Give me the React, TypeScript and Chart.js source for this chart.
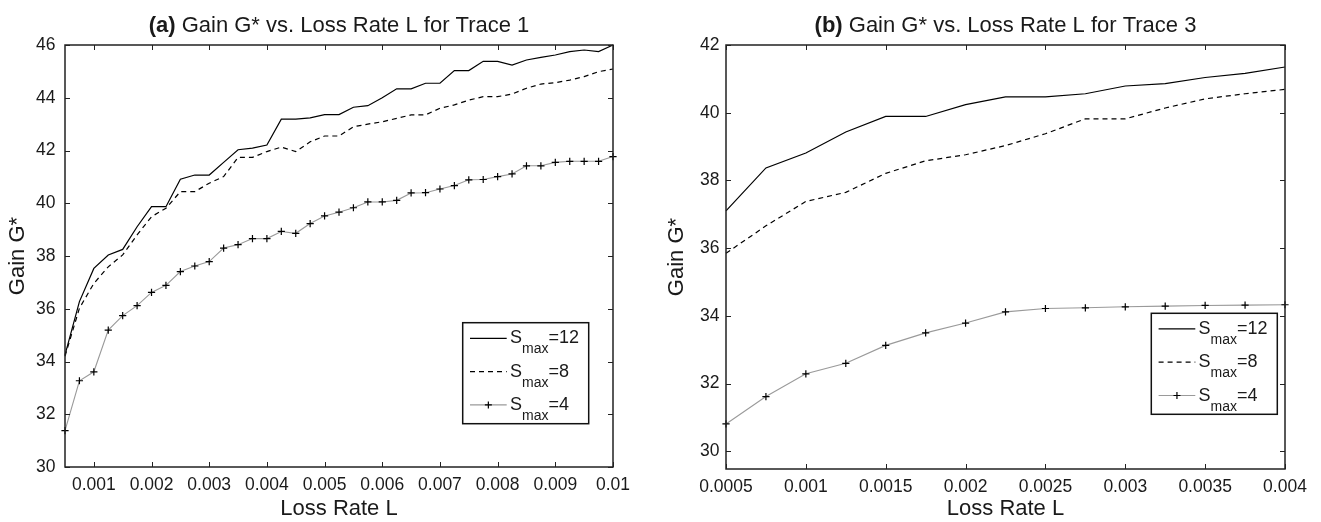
import React, { useEffect, useRef } from "react";
import { Chart, registerables } from "chart.js";

Chart.register(...registerables);

const FONT = "'Liberation Sans', Arial, Helvetica, sans-serif";
const TEXT = "#1a1a1a";

// ---------- Trace 1 (panel a) ----------
const trace1Loss = [
  0.0005, 0.00075, 0.001, 0.00125, 0.0015, 0.00175, 0.002, 0.00225, 0.0025, 0.00275,
  0.003, 0.00325, 0.0035, 0.00375, 0.004, 0.00425, 0.0045, 0.00475, 0.005, 0.00525,
  0.0055, 0.00575, 0.006, 0.00625, 0.0065, 0.00675, 0.007, 0.00725, 0.0075, 0.00775,
  0.008, 0.00825, 0.0085, 0.00875, 0.009, 0.00925, 0.0095, 0.00975, 0.01,
];
const trace1Smax12 = [
  34.25, 36.27, 37.53, 38.04, 38.25, 39.11, 39.87, 39.87, 40.91, 41.07,
  41.07, 41.55, 42.03, 42.09, 42.21, 43.19, 43.19, 43.24, 43.36, 43.36,
  43.64, 43.7, 44.0, 44.34, 44.34, 44.55, 44.55, 45.03, 45.03, 45.38,
  45.38, 45.24, 45.43, 45.53, 45.62, 45.75, 45.81, 45.75, 46.0,
];
const trace1Smax8 = [
  34.2, 36.02, 36.96, 37.59, 38.04, 38.8, 39.49, 39.81, 40.44, 40.44,
  40.76, 41.01, 41.74, 41.74, 41.96, 42.13, 41.96, 42.33, 42.55, 42.55,
  42.9, 43.0, 43.09, 43.22, 43.35, 43.35, 43.6, 43.73, 43.91, 44.04,
  44.04, 44.14, 44.36, 44.52, 44.57, 44.67, 44.8, 44.99, 45.09,
];
const trace1Smax4 = [
  31.38, 33.27, 33.61, 35.19, 35.74, 36.12, 36.62, 36.89, 37.41, 37.62,
  37.79, 38.3, 38.43, 38.66, 38.66, 38.93, 38.86, 39.23, 39.52, 39.66,
  39.83, 40.05, 40.05, 40.11, 40.39, 40.4, 40.54, 40.67, 40.89, 40.9,
  41.01, 41.11, 41.42, 41.42, 41.55, 41.59, 41.59, 41.59, 41.77,
];
const trace1XTicks = [0.001, 0.002, 0.003, 0.004, 0.005, 0.006, 0.007, 0.008, 0.009, 0.01];
const trace1XTickLabels = ["0.001", "0.002", "0.003", "0.004", "0.005", "0.006", "0.007", "0.008", "0.009", "0.01"];
const trace1YTicks = [30, 32, 34, 36, 38, 40, 42, 44, 46];
const trace1YTickLabels = ["30", "32", "34", "36", "38", "40", "42", "44", "46"];

// ---------- Trace 3 (panel b) ----------
const trace3Loss = [
  0.0005, 0.00075, 0.001, 0.00125, 0.0015, 0.00175, 0.002, 0.00225, 0.0025, 0.00275,
  0.003, 0.00325, 0.0035, 0.00375, 0.004,
];
const trace3Smax12 = [37.1, 38.37, 38.81, 39.43, 39.89, 39.89, 40.24, 40.47, 40.47, 40.56, 40.79, 40.86, 41.04, 41.16, 41.35];
const trace3Smax8 = [35.85, 36.66, 37.38, 37.65, 38.21, 38.58, 38.76, 39.03, 39.38, 39.82, 39.82, 40.14, 40.41, 40.56, 40.69];
const trace3Smax4 = [30.81, 31.62, 32.29, 32.6, 33.13, 33.5, 33.79, 34.12, 34.22, 34.24, 34.27, 34.29, 34.31, 34.32, 34.33];
const trace3XTicks = [0.0005, 0.001, 0.0015, 0.002, 0.0025, 0.003, 0.0035, 0.004];
const trace3XTickLabels = ["0.0005", "0.001", "0.0015", "0.002", "0.0025", "0.003", "0.0035", "0.004"];
const trace3YTicks = [30, 32, 34, 36, 38, 40, 42];
const trace3YTickLabels = ["30", "32", "34", "36", "38", "40", "42"];

// ---------- shared text ----------
const seriesSuffix = ["=12", "=8", "=4"];
const legendBase = "S";
const legendSub = "max";
const xTitle = "Loss Rate L";
const yTitle = "Gain G*";

type PanelCfg = {
  prefix: string;
  title: string;
  loss: number[];
  s12: number[];
  s8: number[];
  s4: number[];
  xMin: number;
  xMax: number;
  yMin: number;
  yMax: number;
  xTicks: number[];
  xLabels: string[];
  yTicks: number[];
  yLabels: string[];
  padRight: number;
  yWidth: number;
  xHeight: number;
  yTickPad: number;
  yTitlePad: number;
  legendRight: number;
  legendBottom: number;
};

function decorPlugin(cfg: PanelCfg) {
  return {
    id: "decor",
    afterDraw(chart: any) {
      const { ctx, chartArea: a, scales } = chart;
      ctx.save();
      // frame
      ctx.strokeStyle = "#222";
      ctx.lineWidth = 1.5;
      ctx.strokeRect(a.left, a.top, a.right - a.left, a.bottom - a.top);
      // inward ticks on all four sides
      ctx.lineWidth = 1;
      const tl = 5;
      ctx.beginPath();
      scales.x.ticks.forEach((t: any) => {
        const px = Math.round(scales.x.getPixelForValue(t.value)) + 0.5;
        ctx.moveTo(px, a.bottom);
        ctx.lineTo(px, a.bottom - tl);
        ctx.moveTo(px, a.top);
        ctx.lineTo(px, a.top + tl);
      });
      scales.y.ticks.forEach((t: any) => {
        const py = Math.round(scales.y.getPixelForValue(t.value)) + 0.5;
        ctx.moveTo(a.left, py);
        ctx.lineTo(a.left + tl, py);
        ctx.moveTo(a.right, py);
        ctx.lineTo(a.right - tl, py);
      });
      ctx.stroke();

      // title with bold prefix
      const boldFont = `bold 22px ${FONT}`;
      const normFont = `22px ${FONT}`;
      ctx.font = boldFont;
      const w1 = ctx.measureText(cfg.prefix).width;
      ctx.font = normFont;
      const rest = " " + cfg.title;
      const w2 = ctx.measureText(rest).width;
      const cx = (a.left + a.right) / 2;
      const x0 = cx - (w1 + w2) / 2;
      ctx.fillStyle = TEXT;
      ctx.textAlign = "left";
      ctx.textBaseline = "alphabetic";
      ctx.font = boldFont;
      ctx.fillText(cfg.prefix, x0, 32);
      ctx.font = normFont;
      ctx.fillText(rest, x0 + w1, 32);

      // legend
      const bw = 126;
      const bh = 101;
      const bx = a.right - cfg.legendRight - bw;
      const by = a.bottom - cfg.legendBottom - bh;
      ctx.fillStyle = "#fff";
      ctx.fillRect(bx, by, bw, bh);
      ctx.strokeStyle = "#111";
      ctx.lineWidth = 1.5;
      ctx.strokeRect(bx, by, bw, bh);
      for (let i = 0; i < 3; i++) {
        const base = by + 20.6 + i * 33.3;
        const ly = base - 5;
        const lx0 = bx + 7.3;
        const lx1 = bx + 44;
        ctx.save();
        ctx.beginPath();
        if (i === 0) {
          ctx.strokeStyle = "#000";
          ctx.lineWidth = 1.2;
        } else if (i === 1) {
          ctx.strokeStyle = "#000";
          ctx.lineWidth = 1.2;
          ctx.setLineDash([5, 4]);
        } else {
          ctx.strokeStyle = "#9a9a9a";
          ctx.lineWidth = 1.2;
        }
        ctx.moveTo(lx0, ly);
        ctx.lineTo(lx1, ly);
        ctx.stroke();
        if (i === 2) {
          const mx = (lx0 + lx1) / 2;
          ctx.beginPath();
          ctx.strokeStyle = "#000";
          ctx.moveTo(mx - 3.5, ly);
          ctx.lineTo(mx + 3.5, ly);
          ctx.moveTo(mx, ly - 3.5);
          ctx.lineTo(mx, ly + 3.5);
          ctx.stroke();
        }
        ctx.restore();
        ctx.fillStyle = TEXT;
        ctx.textAlign = "left";
        ctx.textBaseline = "alphabetic";
        let tx = bx + 47.3;
        ctx.font = `18px ${FONT}`;
        ctx.fillText(legendBase, tx, base);
        tx += ctx.measureText(legendBase).width;
        ctx.font = `14px ${FONT}`;
        ctx.fillText(legendSub, tx, base + 10);
        tx += ctx.measureText(legendSub).width;
        ctx.font = `18px ${FONT}`;
        ctx.fillText(seriesSuffix[i], tx, base);
      }
      ctx.restore();
    },
  };
}

function makeConfig(cfg: PanelCfg): any {
  const pts = (ys: number[]) => cfg.loss.map((x, i) => ({ x, y: ys[i] }));
  return {
    type: "line",
    data: {
      datasets: [
        {
          label: legendBase + legendSub + seriesSuffix[0],
          data: pts(cfg.s12),
          borderColor: "#000",
          borderWidth: 1.2,
          pointRadius: 0,
          fill: false,
          tension: 0,
          clip: false,
        },
        {
          label: legendBase + legendSub + seriesSuffix[1],
          data: pts(cfg.s8),
          borderColor: "#000",
          borderWidth: 1.2,
          borderDash: [5, 4],
          pointRadius: 0,
          fill: false,
          tension: 0,
          clip: false,
        },
        {
          label: legendBase + legendSub + seriesSuffix[2],
          data: pts(cfg.s4),
          borderColor: "#9a9a9a",
          borderWidth: 1.1,
          pointStyle: "cross",
          pointRadius: 3.6,
          pointBorderColor: "#000",
          pointBackgroundColor: "#000",
          pointBorderWidth: 1.2,
          fill: false,
          tension: 0,
          clip: false,
        },
      ],
    },
    options: {
      responsive: false,
      animation: false,
      events: [],
      layout: { padding: { top: 45, left: 0, right: cfg.padRight, bottom: 0 } },
      plugins: {
        legend: { display: false },
        title: { display: false },
        tooltip: { enabled: false },
      },
      scales: {
        x: {
          type: "linear",
          min: cfg.xMin,
          max: cfg.xMax,
          afterBuildTicks: (s: any) => {
            s.ticks = cfg.xTicks.map((v) => ({ value: v }));
          },
          afterFit: (s: any) => {
            s.height = cfg.xHeight;
          },
          grid: { display: false, drawTicks: false },
          border: { display: false },
          ticks: {
            padding: 8,
            color: TEXT,
            font: { family: FONT, size: 17.5 },
            maxRotation: 0,
            autoSkip: false,
            callback: (_v: any, i: number) => cfg.xLabels[i],
          },
          title: {
            display: true,
            text: xTitle,
            color: TEXT,
            font: { family: FONT, size: 22 },
            padding: { top: 0, bottom: 0 },
          },
        },
        y: {
          type: "linear",
          min: cfg.yMin,
          max: cfg.yMax,
          afterBuildTicks: (s: any) => {
            s.ticks = cfg.yTicks.map((v) => ({ value: v }));
          },
          afterFit: (s: any) => {
            s.width = cfg.yWidth;
          },
          grid: { display: false, drawTicks: false },
          border: { display: false },
          ticks: {
            padding: cfg.yTickPad,
            color: TEXT,
            font: { family: FONT, size: 17.5 },
            autoSkip: false,
            callback: (_v: any, i: number) => cfg.yLabels[i],
          },
          title: {
            display: true,
            text: yTitle,
            color: TEXT,
            font: { family: FONT, size: 22 },
            padding: { top: cfg.yTitlePad, bottom: 0 },
          },
        },
      },
    },
    plugins: [decorPlugin(cfg)],
  };
}

const panelA: PanelCfg = {
  prefix: "(a)",
  title: "Gain G* vs. Loss Rate L for Trace 1",
  loss: trace1Loss,
  s12: trace1Smax12,
  s8: trace1Smax8,
  s4: trace1Smax4,
  xMin: 0.0005,
  xMax: 0.01,
  yMin: 30,
  yMax: 46,
  xTicks: trace1XTicks,
  xLabels: trace1XTickLabels,
  yTicks: trace1YTicks,
  yLabels: trace1YTickLabels,
  padRight: 47,
  yWidth: 65,
  xHeight: 55,
  yTickPad: 9.5,
  yTitlePad: 5,
  legendRight: 24.3,
  legendBottom: 43.3,
};

const panelB: PanelCfg = {
  prefix: "(b)",
  title: "Gain G* vs. Loss Rate L for Trace 3",
  loss: trace3Loss,
  s12: trace3Smax12,
  s8: trace3Smax8,
  s4: trace3Smax4,
  xMin: 0.0005,
  xMax: 0.004,
  yMin: 29.48,
  yMax: 42,
  xTicks: trace3XTicks,
  xLabels: trace3XTickLabels,
  yTicks: trace3YTicks,
  yLabels: trace3YTickLabels,
  padRight: 36,
  yWidth: 66,
  xHeight: 53,
  yTickPad: 6.5,
  yTitlePad: 3.5,
  legendRight: 7.7,
  legendBottom: 54.7,
};

export default function App() {
  const leftRef = useRef<HTMLCanvasElement | null>(null);
  const rightRef = useRef<HTMLCanvasElement | null>(null);

  useEffect(() => {
    const charts: Chart[] = [];
    if (leftRef.current) charts.push(new Chart(leftRef.current, makeConfig(panelA)));
    if (rightRef.current) charts.push(new Chart(rightRef.current, makeConfig(panelB)));
    return () => {
      charts.forEach((c) => c.destroy());
    };
  }, []);

  return (
    <div style={{ position: "absolute", left: 0, top: 0, width: 1321, height: 522, background: "#fff" }}>
      <canvas
        ref={leftRef}
        width={660}
        height={522}
        style={{ position: "absolute", left: 0, top: 0, width: 660, height: 522 }}
      />
      <canvas
        ref={rightRef}
        width={661}
        height={522}
        style={{ position: "absolute", left: 660, top: 0, width: 661, height: 522 }}
      />
    </div>
  );
}
